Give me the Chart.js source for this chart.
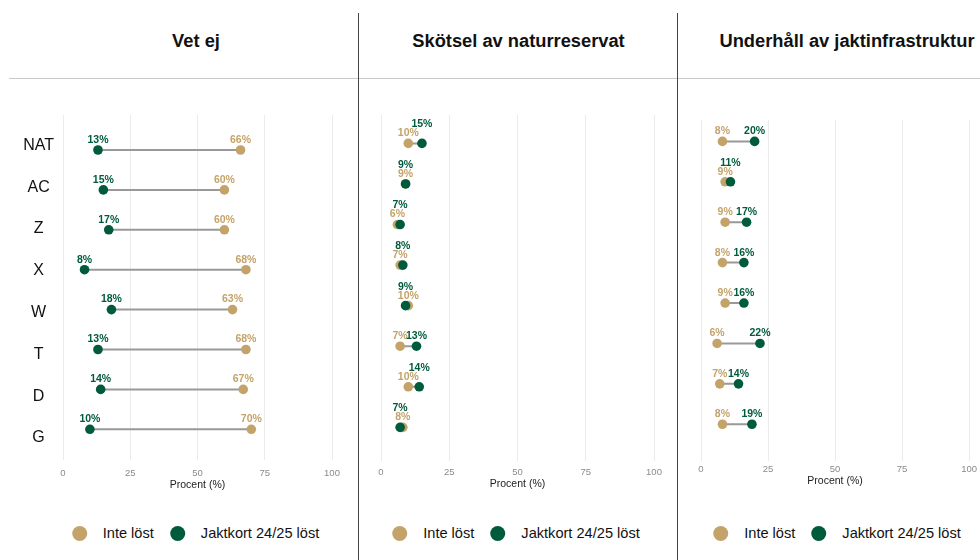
<!DOCTYPE html>
<html>
<head>
<meta charset="utf-8">
<script src="https://cdn.jsdelivr.net/npm/chart.js@4.4.1/dist/chart.umd.min.js"></script>
<style>
  html, body { margin: 0; padding: 0; background: #fff; width: 980px; height: 560px; overflow: hidden; }
  #wrap { position: relative; width: 980px; height: 560px; overflow: hidden; font-family: "Liberation Sans", Arial, sans-serif; }
  canvas { position: absolute; top: 80px; }
  .ptitle { position: absolute; top: 31px; width: 420px; text-align: center; font-weight: bold; font-size: 18.3px; line-height: 20px; color: #111; white-space: nowrap; }
  .legend { position: absolute; top: 523px; height: 20px; display: flex; align-items: center; gap: 16px; font-size: 14.6px; line-height: 20px; color: #111; white-space: nowrap; transform: translateX(-50%); }
  .legend .dot { width: 15px; height: 15px; border-radius: 50%; display: inline-block; }
  .vline { position: absolute; top: 13px; width: 1px; height: 547px; background: #444; z-index: 5; }
  .hline { position: absolute; top: 78px; left: 9px; width: 971px; height: 1px; background: #c8c8c8; z-index: 5; }
</style>
</head>
<body>
<div id="wrap">
  <div class="hline"></div>
  <div class="vline" style="left:358px"></div>
  <div class="vline" style="left:677px"></div>
</div>
<script>
// ---------------- DATA ----------------
const categories = ['NAT', 'AC', 'Z', 'X', 'W', 'T', 'D', 'G'];
const seriesNames = ['Inte löst', 'Jaktkort 24/25 löst'];
const panelTitles = ['Vet ej', 'Skötsel av naturreservat', 'Underhåll av jaktinfrastruktur'];
const xTicks = [0, 25, 50, 75, 100];
const xAxisTitle = 'Procent (%)';

// Panel 1: Vet ej
const vetEjInteLost   = [66, 60, 60, 68, 63, 68, 67, 70];
const vetEjJaktkort   = [13, 15, 17, 8, 18, 13, 14, 10];
// Panel 2: Skötsel av naturreservat
const skotselInteLost = [10, 9, 6, 7, 10, 7, 10, 8];
const skotselJaktkort = [15, 9, 7, 8, 9, 13, 14, 7];
// Panel 3: Underhåll av jaktinfrastruktur
const underhallInteLost = [8, 9, 9, 8, 9, 6, 7, 8];
const underhallJaktkort = [20, 11, 17, 16, 16, 22, 14, 19];

// ---------------- STYLE ----------------
const TAN = '#c4a36a';
const GREEN = '#005a3c';
const FONT = '"Liberation Sans", Arial, sans-serif';
Chart.defaults.font.family = FONT;

const labelPlugin = {
  id: 'dumbbellLabels',
  afterDatasetsDraw(chart) {
    const ctx = chart.ctx;
    const gMeta = chart.getDatasetMeta(0);
    const tMeta = chart.getDatasetMeta(1);
    const gData = chart.data.datasets[0].data;
    const tData = chart.data.datasets[1].data;
    ctx.save();
    ctx.font = 'bold 10.5px ' + FONT;
    ctx.textAlign = 'center';
    ctx.textBaseline = 'middle';
    gMeta.data.forEach((gp, i) => {
      const tp = tMeta.data[i];
      const close = Math.abs(gp.x - tp.x) < 15;
      ctx.fillStyle = TAN;
      ctx.fillText(tData[i].x + '%', tp.x, tp.y - 10);
      ctx.fillStyle = GREEN;
      ctx.fillText(gData[i].x + '%', gp.x, gp.y - (close ? 19 : 10));
    });
    ctx.restore();
  }
};

function makePanel(cfg, inteLost, jaktkort, title) {
  const wrap = document.getElementById('wrap');
  const cv = document.createElement('canvas');
  cv.width = cfg.width; cv.height = 420;
  cv.style.left = cfg.left + 'px';
  cv.style.width = cfg.width + 'px'; cv.style.height = '420px';
  wrap.appendChild(cv);

  const segs = [];
  categories.forEach((c, i) => {
    segs.push({ x: inteLost[i], y: i }, { x: jaktkort[i], y: i }, { x: null, y: null });
  });

  const scales = {
    x: {
      type: 'linear', min: 0, max: 100,
      afterBuildTicks: s => { s.ticks = xTicks.map(v => ({ value: v })); },
      afterFit: s => { s.height = cfg.axisH; },
      grid: { color: '#ebebeb', lineWidth: 1, drawTicks: false },
      border: { display: false },
      ticks: { color: '#8a8a8a', font: { size: 9.5 }, padding: cfg.tickPad, maxRotation: 0 },
      title: { display: true, text: xAxisTitle, color: '#222', font: { size: 10.5 }, padding: 0 }
    },
    y: {
      type: 'linear', reverse: true, min: cfg.yMin, max: cfg.yMax,
      display: false
    }
  };
  if (cfg.showY) {
    scales.yLab = {
      type: 'linear', position: 'left', reverse: true, min: cfg.labMin, max: cfg.labMax,
      afterBuildTicks: s => { s.ticks = categories.map((c, i) => ({ value: i })); },
      afterFit: s => { s.width = 63; },
      grid: { display: false, drawTicks: false },
      border: { display: false },
      ticks: { autoSkip: false, crossAlign: 'center', padding: 9, color: '#111', font: { size: 16 },
               callback: v => categories[v] }
    };
  }

  new Chart(cv, {
    type: 'scatter',
    data: {
      datasets: [
        { label: seriesNames[1], data: jaktkort.map((v, i) => ({ x: v, y: i })),
          backgroundColor: GREEN, borderWidth: 0, pointRadius: 4.8, pointHoverRadius: 4.8 },
        { label: seriesNames[0], data: inteLost.map((v, i) => ({ x: v, y: i })),
          backgroundColor: TAN, borderWidth: 0, pointRadius: 4.8, pointHoverRadius: 4.8 },
        { label: 'seg', data: segs, showLine: true, spanGaps: false, borderColor: '#999999',
          borderWidth: 2, pointRadius: 0, pointHoverRadius: 0 }
      ]
    },
    options: {
      responsive: false, animation: false, devicePixelRatio: 1,
      layout: { padding: cfg.padding },
      plugins: { legend: { display: false }, tooltip: { enabled: false } },
      scales
    },
    plugins: [labelPlugin]
  });

  const t = document.createElement('div');
  t.className = 'ptitle';
  t.style.left = (cfg.titleCenter - 210) + 'px';
  t.textContent = title;
  wrap.appendChild(t);

  const lg = document.createElement('div');
  lg.className = 'legend';
  lg.style.left = cfg.legendCenter + 'px';
  lg.innerHTML = '<span class="dot" style="background:' + TAN + '"></span><span>' + seriesNames[0] +
    '</span><span class="dot" style="background:' + GREEN + '"></span><span>' + seriesNames[1] + '</span>';
  wrap.appendChild(lg);
}

makePanel({ left: 0, width: 358, padding: { top: 35, right: 26, left: 0, bottom: 9 },
            yMin: -0.877, yMax: 7.77, showY: true, labMin: -0.73, labMax: 7.53,
            tickPad: 8, axisH: 31, titleCenter: 196, legendCenter: 195.5 },
          vetEjInteLost, vetEjJaktkort, panelTitles[0]);
makePanel({ left: 358, width: 319, padding: { top: 35, right: 23, left: 23, bottom: 9.5 },
            yMin: -0.70, yMax: 7.83, showY: false,
            tickPad: 6, axisH: 29.5, titleCenter: 518.5, legendCenter: 516 },
          skotselInteLost, skotselJaktkort, panelTitles[1]);
makePanel({ left: 677, width: 303, padding: { top: 40, right: 8, left: 24, bottom: 13 },
            yMin: -0.53, yMax: 7.91, showY: false,
            tickPad: 3, axisH: 26, titleCenter: 847, legendCenter: 837 },
          underhallInteLost, underhallJaktkort, panelTitles[2]);
</script>
</body>
</html>
